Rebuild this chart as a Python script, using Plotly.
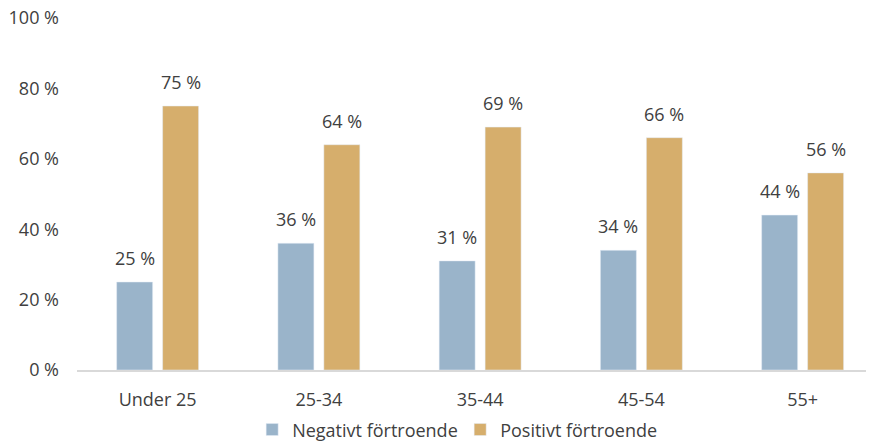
import plotly.graph_objects as go

categories = ["Under 25", "25-34", "35-44", "45-54", "55+"]
negative = [25, 36, 31, 34, 44]
positive = [75, 64, 69, 66, 56]
series_names = ["Negativt förtroende", "Positivt förtroende"]
y_ticks = [0, 20, 40, 60, 80, 100]
y_tick_labels = [f"{v} %" for v in y_ticks]

BLUE = "#9AB4CA"
GOLD = "#D6AE6C"
TEXT = "#404040"
FONT = "Open Sans"

fig = go.Figure()
fig.add_trace(go.Bar(x=categories, y=negative, name=series_names[0], marker_color=BLUE))
fig.add_trace(go.Bar(x=categories, y=positive, name=series_names[1], marker_color=GOLD))

for cat, v in zip(categories, negative):
    fig.add_annotation(x=cat, y=v, text=f"{v} %", showarrow=False, xshift=-23, yshift=10,
                       yanchor="bottom", font=dict(size=18, color=TEXT, family=FONT))
for cat, v in zip(categories, positive):
    fig.add_annotation(x=cat, y=v, text=f"{v} %", showarrow=False, xshift=23, yshift=10,
                       yanchor="bottom", font=dict(size=18, color=TEXT, family=FONT))

fig.update_layout(
    width=872, height=443,
    margin=dict(l=77, r=6, t=18, b=73, autoexpand=False),
    paper_bgcolor="white", plot_bgcolor="white",
    barmode="group", bargap=0.43, bargroupgap=0.217,
    font=dict(family=FONT, size=18, color=TEXT),
    showlegend=True,
    legend=dict(orientation="h", x=0.222, xanchor="left", y=-0.17, yanchor="middle",
                entrywidth=163, entrywidthmode="pixels",
                font=dict(size=18, color=TEXT, family=FONT), traceorder="normal"),
    xaxis=dict(range=[-0.5, 4.393], showgrid=False, showline=True, linecolor="#D9D9D9",
               linewidth=2, ticks="", ticklabelstandoff=12, automargin=False,
               tickfont=dict(size=18, color=TEXT)),
    yaxis=dict(range=[0, 100], tickvals=y_ticks, ticktext=y_tick_labels, showgrid=False,
               showline=False, zeroline=False, ticks="", ticklabelstandoff=17,
               automargin=False, ticklabeloverflow="allow",
               tickfont=dict(size=18, color=TEXT)),
)

fig.write_html("out.html",
               config={"displayModeBar": False},
               post_script="document.body.style.margin='0';document.body.style.overflow='hidden';")
